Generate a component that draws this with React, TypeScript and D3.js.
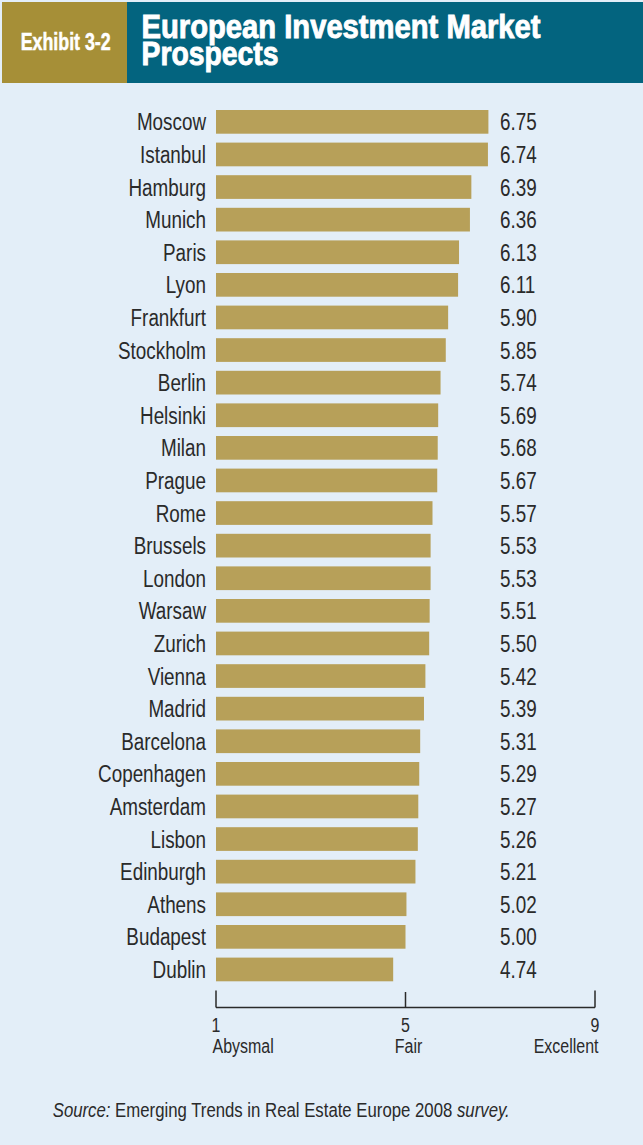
import { useMemo } from 'react'
import * as d3 from 'd3'

const cities = [
  'Moscow', 'Istanbul', 'Hamburg', 'Munich', 'Paris', 'Lyon', 'Frankfurt',
  'Stockholm', 'Berlin', 'Helsinki', 'Milan', 'Prague', 'Rome', 'Brussels',
  'London', 'Warsaw', 'Zurich', 'Vienna', 'Madrid', 'Barcelona', 'Copenhagen',
  'Amsterdam', 'Lisbon', 'Edinburgh', 'Athens', 'Budapest', 'Dublin'
]
const scores = [
  6.75, 6.74, 6.39, 6.36, 6.13, 6.11, 5.90, 5.85, 5.74, 5.69, 5.68, 5.67, 5.57,
  5.53, 5.53, 5.51, 5.50, 5.42, 5.39, 5.31, 5.29, 5.27, 5.26, 5.21, 5.02, 5.00, 4.74
]
const tickValues = [1, 5, 9]
const tickNames = ['Abysmal', 'Fair', 'Excellent']

const W = 643
const H = 1145
const BG = '#e3eef8'
const BAR = '#b7a059'
const GOLD = '#a68f37'
const TEAL = '#03647f'
const INK = '#2a2a2a'
const FONT = '"Liberation Sans", Arial, sans-serif'

// condensed text: the narrow face isn't installed, so squeeze horizontally
function NText({ x, y, anchor = 'start', size, sx = 0.82, children }: any) {
  return (
    <text
      transform={`translate(${x},${y}) scale(${sx},1)`}
      textAnchor={anchor}
      fontSize={size}
      fill={INK}
    >
      {children}
    </text>
  )
}

export default function App() {
  const x = useMemo(() => d3.scaleLinear().domain([1, 9]).range([216, 595]), [])
  const y = useMemo(
    () => d3.scaleBand<string>().domain(cities).range([110, 981.3]).paddingInner(0.273).paddingOuter(0),
    []
  )
  const axisY = 1007.5
  const bw = y.bandwidth()

  return (
    <svg width={W} height={H} style={{ position: 'absolute', left: 0, top: 0, fontFamily: FONT }}>
      <rect x={0} y={0} width={W} height={H} fill={BG} />

      {/* header */}
      <rect x={2} y={2} width={125} height={81} fill={GOLD} />
      <rect x={127} y={2} width={W - 127} height={81} fill={TEAL} />
      <text x={20.7} y={50} fill="#fff" stroke="#fff" strokeWidth={0.5} fontSize={23} fontWeight={700}
        textLength={90} lengthAdjust="spacingAndGlyphs">Exhibit 3-2</text>
      <text fill="#fff" stroke="#fff" strokeWidth={0.9} fontSize={33} fontWeight={700}>
        <tspan x={141.5} y={37.5} textLength={399} lengthAdjust="spacingAndGlyphs">European Investment Market</tspan>
        <tspan x={141.5} y={64.5} textLength={137} lengthAdjust="spacingAndGlyphs">Prospects</tspan>
      </text>

      {/* bars */}
      {cities.map((c, i) => {
        const top = y(c) as number
        const mid = top + bw / 2
        return (
          <g key={c}>
            <rect x={x(1)} y={top} width={x(scores[i]) - x(1)} height={bw} fill={BAR} />
            <NText x={206} y={mid + 8.5} anchor="end" size={23}>{c}</NText>
            <NText x={500} y={mid + 8.5} size={23}>{scores[i].toFixed(2)}</NText>
          </g>
        )
      })}

      {/* axis */}
      <line x1={x(1)} x2={x(9)} y1={axisY} y2={axisY} stroke={INK} strokeWidth={1.5} />
      {tickValues.map((t, i) => {
        const anchor = i === 0 ? 'start' : i === tickValues.length - 1 ? 'end' : 'middle'
        const dx = i === 0 ? -3.5 : i === tickValues.length - 1 ? 3.5 : 3
        return (
          <g key={t}>
            <line x1={x(t)} x2={x(t)} y1={i === 1 ? 992 : 990.5} y2={axisY} stroke={INK} strokeWidth={1.5} />
            <NText x={x(t)} y={1031.5} anchor="middle" size={19.5}>{t}</NText>
            <NText x={x(t) + dx} y={1053} anchor={anchor} size={19.5}>{tickNames[i]}</NText>
          </g>
        )
      })}

      {/* source */}
      <NText x={52.7} y={1116.5} size={19.5} sx={0.86}>
        <tspan fontStyle="italic">Source:</tspan>
        <tspan> Emerging Trends in Real Estate Europe 2008 </tspan>
        <tspan fontStyle="italic">survey.</tspan>
      </NText>
    </svg>
  )
}
